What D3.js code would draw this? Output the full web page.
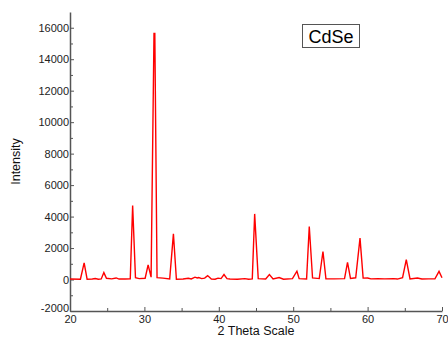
<!DOCTYPE html>
<meta charset="utf-8">
<style>
  body { margin: 0; background: #fff; font-family: "Liberation Sans", Arial, sans-serif; }
  .axis path, .axis line { stroke: #555; }
  .axis text { fill: #222; font-size: 11px; }
</style>
<body>
<script src="https://cdn.jsdelivr.net/npm/d3@7"></script>
<script>
var width = 448, height = 340;
var margin = {left: 70, right: 6, top: 12, bottom: 29};

// 2 theta (deg) and intensity
var theta = [20, 21.4, 21.9, 22.3, 23.0, 23.4, 23.8, 24.2, 24.55, 24.9, 25.6, 26.2, 26.6, 27.4, 28.1, 28.42, 28.8, 29.3, 30.1, 30.5, 30.9,
  31.29, 31.4, 31.7, 32.5, 33.4, 33.9, 34.3, 35.2, 35.9, 36.3, 36.8, 37.1, 37.3, 37.7, 38.1, 38.5, 39.0, 39.5, 39.9, 40.3, 40.7, 41.1,
  41.5, 42.5, 43.5, 44.0, 44.5, 44.82, 45.3, 46.3, 46.8, 47.3, 48.1, 48.7, 49.9, 50.5, 50.8, 51.8, 52.16, 52.6, 53.5, 54.0, 54.4,
  55.5, 56.9, 57.3, 57.7, 58.4, 58.98, 59.4, 60.0, 60.45, 61.4, 62.3, 63.5, 64.0, 64.7, 65.2, 65.7, 66.7, 67.3, 68.2, 69.05, 69.6, 70];
var intensity = [30, 20, 1060, 20, 30, 60, 20, 40, 440, 80, 40, 100, 30, 30, 40, 4700, 120, 60, 80, 930, 150,
  15640, 15640, 120, 90, 40, 2900, 20, 30, 80, 40, 150, 100, 130, 60, 90, 250, 30, 20, 90, 60, 320, 60,
  30, 20, 60, 20, 40, 4170, 60, 30, 320, 40, 130, 20, 60, 530, 60, 40, 3370, 100, 60, 1780, 40,
  40, 60, 1090, 70, 110, 2630, 90, 100, 40, 60, 40, 60, 30, 120, 1270, 40, 100, 30, 40, 50, 520, 110];

var xTicks = [20, 30, 40, 50, 60, 70];
var yTicks = [-2000, 0, 2000, 4000, 6000, 8000, 10000, 12000, 14000, 16000];

var svg = d3.select("body").append("svg")
  .attr("width", width)
  .attr("height", height);

var x = d3.scaleLinear().domain([20, 70]).range([margin.left, width - margin.right]);
var y = d3.scaleLinear().domain([-2000, 17000]).range([height - margin.bottom, margin.top]);

// minor ticks
svg.append("g")
  .attr("class", "axis")
  .attr("transform", "translate(0," + y(-2000) + ")")
  .call(d3.axisBottom(x).tickValues(d3.range(25, 70, 10)).tickSize(-3).tickFormat(""))
  .select(".domain").remove();
svg.append("g")
  .attr("class", "axis")
  .attr("transform", "translate(" + x(20) + ",0)")
  .call(d3.axisLeft(y).tickValues(d3.range(-1000, 17000, 2000)).tickSize(-3).tickFormat(""))
  .select(".domain").remove();

var xAxis = svg.append("g")
  .attr("class", "axis")
  .attr("transform", "translate(0," + y(-2000) + ")")
  .call(d3.axisBottom(x).tickValues(xTicks).tickSize(-4).tickPadding(4).tickSizeOuter(0));
xAxis.select(".domain").attr("stroke-width", 1.5);

var yAxis = svg.append("g")
  .attr("class", "axis")
  .attr("transform", "translate(" + x(20) + ",0)")
  .call(d3.axisLeft(y).tickValues(yTicks).tickSize(-4).tickPadding(1).tickSizeOuter(0)
    .tickFormat(function(d) { return String(d); }));
yAxis.select(".domain").attr("stroke-width", 1.5);
// nudge the lowest label so it does not collide with "20"
yAxis.selectAll(".tick text").filter(function(d) { return d === -2000; })
  .attr("dy", "0.05em");

var line = d3.line()
  .x(function(d, i) { return x(theta[i]); })
  .y(function(d) { return y(d); });

svg.append("path")
  .datum(intensity)
  .attr("fill", "none")
  .attr("stroke", "#ff0000")
  .attr("stroke-width", 1.4)
  .attr("d", line);

// axis titles
svg.append("text")
  .attr("x", (x(20) + x(70)) / 2)
  .attr("y", 335)
  .attr("text-anchor", "middle")
  .style("font-size", "12.5px")
  .style("fill", "#111")
  .text("2 Theta Scale");

svg.append("text")
  .attr("transform", "translate(20," + (y(-2000) + y(17000)) / 2 + ") rotate(-90)")
  .attr("text-anchor", "middle")
  .style("font-size", "12.5px")
  .style("fill", "#111")
  .text("Intensity");

// label box
svg.append("rect")
  .attr("x", 302.5).attr("y", 24.5)
  .attr("width", 57).attr("height", 23)
  .attr("fill", "#fff")
  .attr("stroke", "#555");
svg.append("text")
  .attr("x", 331).attr("y", 43)
  .attr("text-anchor", "middle")
  .style("font-size", "18px")
  .style("fill", "#000")
  .text("CdSe");
</script>
</body>
